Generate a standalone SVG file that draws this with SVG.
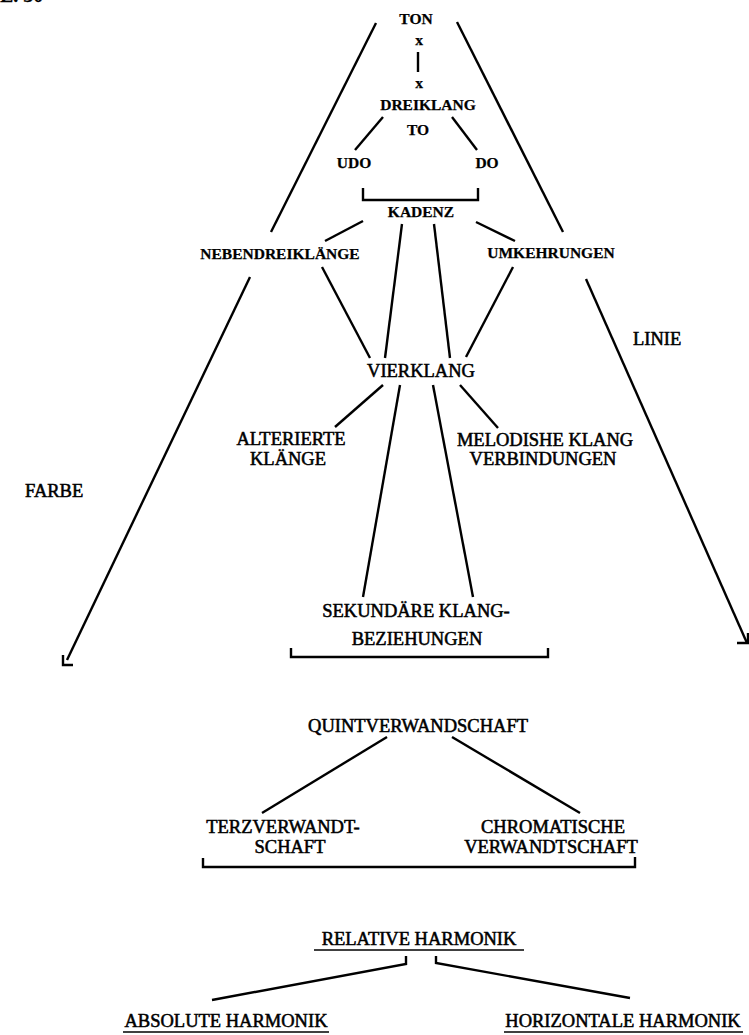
<svg xmlns="http://www.w3.org/2000/svg" width="749" height="1035" viewBox="0 0 749 1035">
<style>
text { font-family: "Liberation Serif", "Times New Roman", serif; fill: #000; text-anchor: middle; }
.s { font-weight: bold; font-size: 15.5px; stroke: #000; stroke-width: 0.25px; }
.l { font-size: 18.5px; stroke: #000; stroke-width: 0.55px; }
.c line, .c path { stroke: #000; stroke-width: 2.4; fill: none; stroke-linecap: butt; }
.u { stroke: #000; stroke-width: 1.7; }
</style>
<rect width="749" height="1035" fill="#fff"/>
<g id="header"><text x="0" y="2" class="s" style="text-anchor:start;font-size:20px">E. 30</text></g>
<g class="c" id="connectors">
  <line x1="418" y1="52" x2="418" y2="72"/>
  <line x1="383" y1="117" x2="355" y2="150"/>
  <line x1="452" y1="117" x2="477" y2="150"/>
  <path d="M363,188 V200 H478 V188"/>
  <line x1="363" y1="221" x2="325" y2="241"/>
  <line x1="476" y1="222" x2="515" y2="241"/>
  <line x1="402" y1="224" x2="385" y2="358"/>
  <line x1="434" y1="224" x2="450" y2="358"/>
  <line x1="322" y1="267" x2="370" y2="358"/>
  <line x1="513" y1="267" x2="466" y2="357"/>
  <line x1="383" y1="385" x2="335" y2="427"/>
  <line x1="460" y1="385" x2="498" y2="428"/>
  <line x1="400" y1="385" x2="363" y2="597"/>
  <line x1="433" y1="385" x2="473" y2="597"/>
  <path d="M291,648 V657 H548 V648"/>
  <line x1="387" y1="737" x2="262" y2="813"/>
  <line x1="452" y1="737" x2="580" y2="813"/>
  <path d="M203,858 V867 H635 V857"/>
  <path d="M406,956 V964 L212,1000"/>
  <path d="M436,956 V963 L630,998"/>
  <line x1="376" y1="23" x2="271" y2="232"/>
  <line x1="250" y1="277" x2="67" y2="660"/>
  <path d="M63,655 V665 H73"/>
  <line x1="457" y1="22" x2="563" y2="232"/>
  <line x1="586" y1="279" x2="747" y2="643"/>
  <path d="M737,643 H748 V633"/>
</g>
<g id="ton"><text x="416" y="24" class="s" font-size="15">TON</text></g>
<g id="x1"><text x="419" y="45" class="s" font-size="13">x</text></g>
<g id="x2"><text x="419" y="88" class="s" font-size="13">x</text></g>
<g id="dreiklang"><text x="428" y="110" class="s" font-size="15">DREIKLANG</text></g>
<g id="to"><text x="418" y="135" class="s" font-size="14">TO</text></g>
<g id="udo"><text x="354" y="168" class="s" font-size="15.5">UDO</text></g>
<g id="do"><text x="487" y="168" class="s" font-size="15.5">DO</text></g>
<g id="kadenz"><text x="421" y="217" class="s" font-size="16.5">KADENZ</text></g>
<g id="nebendreiklaenge"><text x="280" y="259" class="s" font-size="16.5">NEBENDREIKLÄNGE</text></g>
<g id="umkehrungen"><text x="551" y="258" class="s" font-size="16.4">UMKEHRUNGEN</text></g>
<g id="linie"><text x="633" y="345" class="l" style="text-anchor:start">LINIE</text></g>
<g id="vierklang"><text x="421" y="377" class="l">VIERKLANG</text></g>
<g id="alterierte"><text x="291" y="445" class="l">ALTERIERTE</text><text x="288" y="465" class="l">KLÄNGE</text></g>
<g id="melodishe"><text x="545" y="446" class="l">MELODISHE KLANG</text><text x="543" y="465" class="l" font-size="19.5">VERBINDUNGEN</text></g>
<g id="farbe"><text x="25" y="497" class="l" style="text-anchor:start">FARBE</text></g>
<g id="sekundaere"><text x="416" y="617" class="l">SEKUNDÄRE KLANG-</text><text x="417" y="645" class="l">BEZIEHUNGEN</text></g>
<g id="quint"><text x="418" y="732" class="l" font-size="19.5">QUINTVERWANDSCHAFT</text></g>
<g id="terz"><text x="283" y="833" class="l" font-size="18.3">TERZVERWANDT-</text><text x="290" y="853" class="l" font-size="16">SCHAFT</text></g>
<g id="chrom"><text x="553" y="833" class="l">CHROMATISCHE</text><text x="551" y="853" class="l" font-size="17.6">VERWANDTSCHAFT</text></g>
<g id="relative"><text x="419" y="945" class="l" font-size="20">RELATIVE HARMONIK</text><line class="u" x1="314" y1="950" x2="524" y2="950"/></g>
<g id="absolute"><text x="226" y="1027" class="l" font-size="19">ABSOLUTE HARMONIK</text><line class="u" x1="123" y1="1032" x2="329" y2="1032"/></g>
<g id="horizontale"><text x="623" y="1027" class="l" font-size="19">HORIZONTALE HARMONIK</text><line class="u" x1="504" y1="1032" x2="743" y2="1032"/></g>
</svg>
